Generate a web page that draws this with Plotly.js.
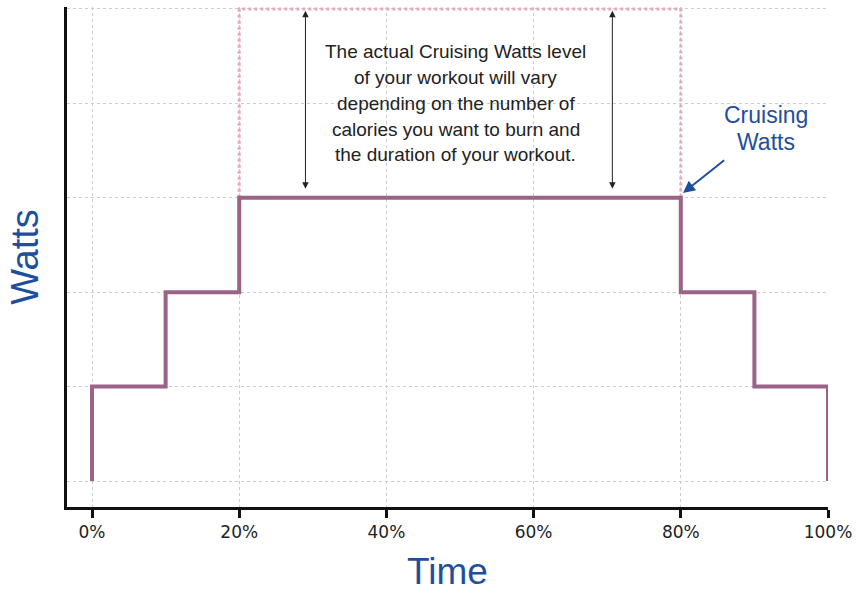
<!DOCTYPE html>
<html>
<head>
<meta charset="utf-8">
<script src="https://cdn.plot.ly/plotly-3.0.1.min.js"></script>
<style>html,body{margin:0;padding:0;background:#fff;}#chart{width:856px;height:592px;}</style>
</head>
<body>
<div id="chart"></div>
<script>
// Workout profile (time in % of workout, watts level in arbitrary steps)
const timePct    = [0, 0, 10, 10, 20, 20, 80, 80, 90, 90, 100, 100];
const wattsLevel = [0, 1, 1, 2, 2, 3, 3, 2, 2, 1, 1, 0];
// Range of possible cruising watts (dotted band)
const bandTime  = [20, 20, 80, 80];
const bandWatts = [3, 5, 5, 3];
// Double-headed arrows marking the variable range
const arrowTimes = [29, 70.7];
const arrowFrom = 3.08, arrowTo = 4.98;
const xTicks = [0, 20, 40, 60, 80, 100];
const xTickLabels = ['0%', '20%', '40%', '60%', '80%', '100%'];
const noteLines = [
  'The actual Cruising Watts level',
  'of your workout will vary',
  'depending on the number of',
  'calories you want to burn and',
  'the duration of your workout.'
];
const calloutLines = ['Cruising', 'Watts'];

const blue = '#1f4f9c';
const annotations = [];
arrowTimes.forEach(t => {
  annotations.push({x: t, y: arrowTo, ax: t, ay: arrowFrom, xref: 'x', yref: 'y', axref: 'x', ayref: 'y',
    text: '', showarrow: true, arrowhead: 2, arrowside: 'end+start', arrowsize: 1.3, arrowwidth: 1, arrowcolor: '#222'});
});
noteLines.forEach((s, i) => {
  annotations.push({x: 49.4, y: 4.0 + (2 - i) * 0.272, xref: 'x', yref: 'y', text: s, showarrow: false,
    font: {family: 'Liberation Sans, Arial, sans-serif', size: 19, color: '#222'}});
});
calloutLines.forEach((s, i) => {
  annotations.push({x: 91.6, y: 3.88 - i * 0.29, xref: 'x', yref: 'y', text: s, showarrow: false,
    font: {family: 'Liberation Sans, Arial, sans-serif', size: 23, color: blue}});
});
annotations.push({x: 80.3, y: 3.05, ax: 86.1, ay: 3.41, xref: 'x', yref: 'y', axref: 'x', ayref: 'y',
  text: '', showarrow: true, arrowhead: 2, arrowsize: 1.2, arrowwidth: 2, arrowcolor: blue});

const traces = [
  {x: bandTime, y: bandWatts, mode: 'lines', line: {color: '#e3a9bf', width: 3, dash: 'dot'}, hoverinfo: 'skip'},
  {x: timePct, y: wattsLevel, mode: 'lines', line: {color: '#9b6486', width: 4}}
];

const layout = {
  width: 856, height: 592,
  margin: {l: 67, r: 28, t: 7, b: 85},
  paper_bgcolor: '#fff', plot_bgcolor: '#fff',
  showlegend: false,
  font: {family: 'Liberation Sans, Arial, sans-serif', color: '#222'},
  xaxis: {
    range: [-3.4, 100], tickvals: xTicks, ticktext: xTickLabels,
    showline: true, linecolor: '#111', linewidth: 3,
    ticks: 'outside', ticklen: 8, tickwidth: 3, tickcolor: '#111',
    tickfont: {family: 'DejaVu Sans, sans-serif', size: 17, color: '#222'},
    showgrid: true, gridcolor: '#cccccc', gridwidth: 1, griddash: 'dot',
    zeroline: false,
    title: {text: 'Time', font: {size: 37, color: blue}, standoff: 18}
  },
  yaxis: {
    range: [-0.275, 5.02], tickvals: [0, 1, 2, 3, 4, 5], showticklabels: false,
    showline: true, linecolor: '#111', linewidth: 3,
    ticks: '',
    showgrid: true, gridcolor: '#cccccc', gridwidth: 1, griddash: 'dot',
    zeroline: false,
    title: {text: 'Watts', font: {size: 38, color: blue}, standoff: 14}
  },
  annotations: annotations
};

Plotly.newPlot('chart', traces, layout, {displayModeBar: false, staticPlot: true});
</script>
</body>
</html>
